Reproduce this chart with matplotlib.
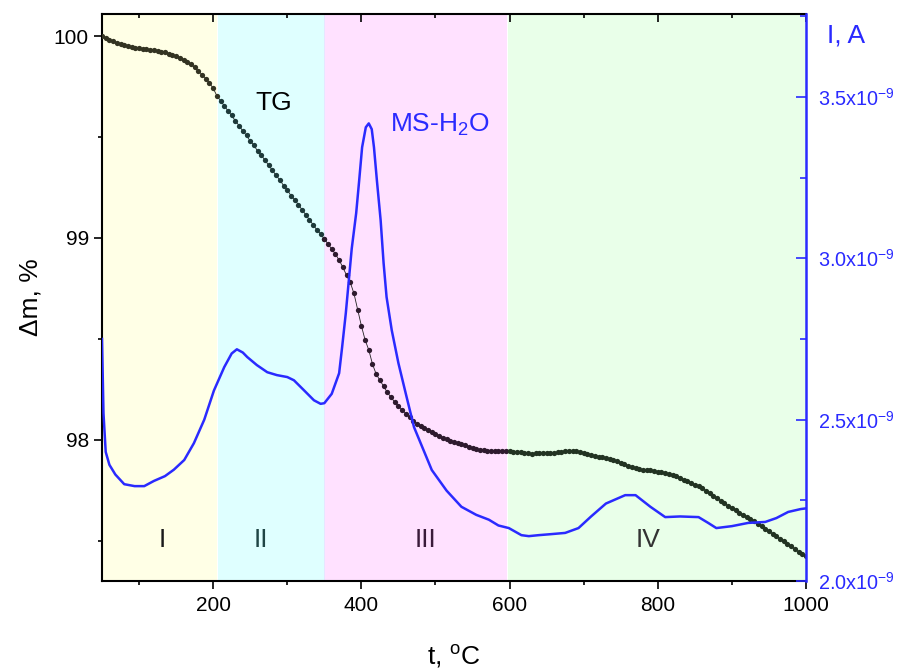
import numpy as np
import matplotlib
matplotlib.use("Agg")
import matplotlib.pyplot as plt
from matplotlib.ticker import FixedLocator

plt.rcParams['font.family'] = ['Liberation Sans', 'DejaVu Sans']
plt.rcParams['mathtext.fontset'] = 'custom'
plt.rcParams['mathtext.rm'] = 'Liberation Sans'
plt.rcParams['mathtext.it'] = 'Liberation Sans:italic'
plt.rcParams['mathtext.bf'] = 'Liberation Sans:bold'

# ---- TG data (temperature, mass %) ----
tg_t = list(range(50, 1001, 5))
tg_m = [
    100.0, 99.99, 99.982, 99.975, 99.968, 99.962, 99.957, 99.952, 99.947, 99.943,
    99.94, 99.938, 99.936, 99.934, 99.931, 99.928, 99.924, 99.92, 99.914, 99.908,
    99.901, 99.894, 99.884, 99.873, 99.86, 99.845, 99.827, 99.81, 99.79, 99.768,
    99.742,
    99.705, 99.68, 99.655, 99.63, 99.607, 99.58, 99.557, 99.53, 99.508, 99.48,
    99.46, 99.43, 99.41, 99.385, 99.36, 99.335, 99.31, 99.287, 99.26, 99.238,
    99.21, 99.19, 99.165, 99.14, 99.115, 99.09, 99.065, 99.04, 99.02, 98.995,
    98.97, 98.945, 98.92, 98.89, 98.855, 98.815, 98.78, 98.725, 98.645, 98.565,
    98.495, 98.445, 98.375, 98.325, 98.295, 98.265, 98.235, 98.21, 98.187, 98.167,
    98.148, 98.13, 98.112, 98.095, 98.08, 98.07, 98.06, 98.05, 98.04, 98.03,
    98.02, 98.01, 98.005, 97.995, 97.99, 97.985, 97.978, 97.972, 97.965, 97.96,
    97.955, 97.95, 97.948, 97.946, 97.945, 97.944, 97.944, 97.945, 97.946, 97.945,
    97.941, 97.94, 97.938, 97.936, 97.933, 97.931, 97.932, 97.934, 97.934, 97.935,
    97.934, 97.934, 97.937, 97.941, 97.944, 97.944, 97.943, 97.942, 97.938, 97.933,
    97.927, 97.923, 97.919, 97.917, 97.913, 97.909, 97.905, 97.9, 97.893, 97.886,
    97.879, 97.871, 97.865, 97.859, 97.853, 97.85, 97.849, 97.848, 97.845, 97.842,
    97.838, 97.834, 97.83, 97.825, 97.818, 97.81, 97.803, 97.795, 97.787, 97.778,
    97.769, 97.76, 97.747, 97.734, 97.722, 97.71, 97.697, 97.685, 97.672, 97.661,
    97.65, 97.638, 97.627, 97.616, 97.606, 97.595, 97.583, 97.571, 97.559, 97.546,
    97.534, 97.522, 97.509, 97.497, 97.485, 97.473, 97.458, 97.445, 97.433, 97.425,
]

# ---- MS-H2O data (temperature, current in 1e-9 A) ----
ms_t = [50, 52, 55, 60, 68, 80, 94, 107, 120, 135, 147, 161, 174, 188, 201, 215,
        225, 232, 240, 246, 259, 273, 286, 300, 309, 323, 336, 345, 350, 360, 370,
        374, 379, 383, 387, 393, 397, 401, 406, 410, 414, 417, 421, 426, 430, 434,
        441, 450, 460, 471, 495, 515, 535, 555, 572, 585, 599, 616, 626, 639, 655,
        675, 693, 710, 730, 756, 770, 790, 810, 830, 855, 868, 879, 900, 922, 945,
        960, 976, 993, 1000]
ms_i = [2.75, 2.52, 2.40, 2.36, 2.33, 2.30, 2.294, 2.294, 2.31, 2.325, 2.345, 2.375,
        2.427, 2.50, 2.59, 2.663, 2.705, 2.718, 2.708, 2.694, 2.669, 2.647, 2.638,
        2.632, 2.622, 2.59, 2.56, 2.549, 2.551, 2.58, 2.644, 2.724, 2.83, 2.93, 3.03,
        3.14, 3.24, 3.344, 3.406, 3.418, 3.40, 3.344, 3.24, 3.118, 2.985, 2.88, 2.777,
        2.675, 2.58, 2.477, 2.344, 2.28, 2.23, 2.205, 2.19, 2.172, 2.164, 2.142,
        2.139, 2.142, 2.145, 2.149, 2.164, 2.20, 2.24, 2.266, 2.266, 2.23, 2.198,
        2.20, 2.198, 2.18, 2.164, 2.17, 2.18, 2.183, 2.195, 2.214, 2.223, 2.225]

# ---- stages ----
stage_names = ['I', 'II', 'III', 'IV']
stage_bounds = [(50, 205), (207, 351), (349, 597), (598, 1000)]
stage_colors = ['#FFFFE6', '#DFFFFF', '#FFE1FF', '#E9FFE9']
stage_text_colors = ['#1a1a1a', '#1f4545', '#3a1a3a', '#333333']
stage_dot_colors = ['#333322', '#1d3a3a', '#2e1a2e', '#223322']
stage_label_t = [131, 265, 487, 787]

blue = '#2a2aff'

fig = plt.figure(figsize=(9.08, 6.70), dpi=100)
ax = fig.add_axes([102/908, 1-581/670, (806-102)/908, (581-14)/670])

for (a, b), c in zip(stage_bounds, stage_colors):
    ax.axvspan(a, b, color=c, lw=0, zorder=0)
ax.axvspan(349, 351, color='#E6E6FF', lw=0, zorder=0)

ax.set_xlim(50, 1000)
ax.set_ylim(97.30, 100.11)

tg_t_arr = np.array(tg_t)
tg_m_arr = np.array(tg_m)
ax.plot(tg_t_arr, tg_m_arr, color='#222222', lw=0.6, zorder=3)
for (a, b), dc in zip(stage_bounds, stage_dot_colors):
    sel = (tg_t_arr >= a) & (tg_t_arr <= b)
    ax.plot(tg_t_arr[sel], tg_m_arr[sel], 'o', color=dc, ms=3.8, mew=0, zorder=4)

for name, tx, tc in zip(stage_names, stage_label_t, stage_text_colors):
    ax.text(tx, 97.505, name, fontsize=19, color=tc, ha='center', va='center', zorder=6)

ax.text(282, 99.67, 'TG', fontsize=19, color='black', ha='center', va='center', zorder=6)

# x axis
ax.xaxis.set_major_locator(FixedLocator([200, 400, 600, 800, 1000]))
ax.xaxis.set_minor_locator(FixedLocator([100, 300, 500, 700, 900]))
ax.tick_params(axis='x', which='major', direction='out', length=6, width=1.2,
               labelsize=15, top=False, pad=5)
ax.tick_params(axis='x', which='minor', direction='out', length=3, width=1.2, top=False)
ax.set_xlabel('t, $^{\\mathrm{o}}$C', fontsize=19, labelpad=20)

# top ticks (inward)
secx = ax.secondary_xaxis('top')
secx.xaxis.set_major_locator(FixedLocator([200, 400, 600, 800, 1000]))
secx.xaxis.set_minor_locator(FixedLocator([100, 300, 500, 700, 900]))
secx.tick_params(which='major', direction='in', length=6, width=1.2, labeltop=False)
secx.tick_params(which='minor', direction='in', length=3, width=1.2)
secx.spines['top'].set_linewidth(1.5)

# left y axis
ax.yaxis.set_major_locator(FixedLocator([98, 99, 100]))
ax.yaxis.set_minor_locator(FixedLocator([97.5, 98.5, 99.5]))
ax.set_yticklabels(['98', '99', '100'])
ax.tick_params(axis='y', which='major', direction='out', length=6, width=1.2, labelsize=15)
ax.tick_params(axis='y', which='minor', direction='out', length=3, width=1.2)
ax.set_ylabel('\u0394m, %', fontsize=19, labelpad=8)
for s in ['left', 'bottom']:
    ax.spines[s].set_linewidth(1.5)
ax.spines['right'].set_visible(False)
ax.spines['top'].set_visible(False)

# right axis
ax2 = ax.twinx()
ax2.set_ylim(2.0, 3.757)
ax2.plot(ms_t, ms_i, color=blue, lw=1.8, zorder=5)
ax2.yaxis.set_major_locator(FixedLocator([2.0, 2.5, 3.0, 3.5]))
ax2.yaxis.set_minor_locator(FixedLocator([2.25, 2.75, 3.25, 3.75]))
ax2.set_yticklabels(['2.0x10$^{-9}$', '2.5x10$^{-9}$', '3.0x10$^{-9}$', '3.5x10$^{-9}$'])
ax2.tick_params(axis='y', which='major', direction='in', length=7, width=1.2,
                colors=blue, labelsize=14.3, pad=9)
ax2.tick_params(axis='y', which='minor', direction='in', length=4, width=1.2, colors=blue)
ax2.spines['right'].set_color(blue)
ax2.spines['right'].set_linewidth(1.8)
for s in ['left', 'top', 'bottom']:
    ax2.spines[s].set_visible(False)
ax2.text(506, 3.412, 'MS-H$_2$O', fontsize=19, color=blue, ha='center', va='center')

fig.text(846/908, 1-35/670, 'I, A', fontsize=19, color=blue, ha='center', va='center')

fig.savefig('out.png', dpi=100)
